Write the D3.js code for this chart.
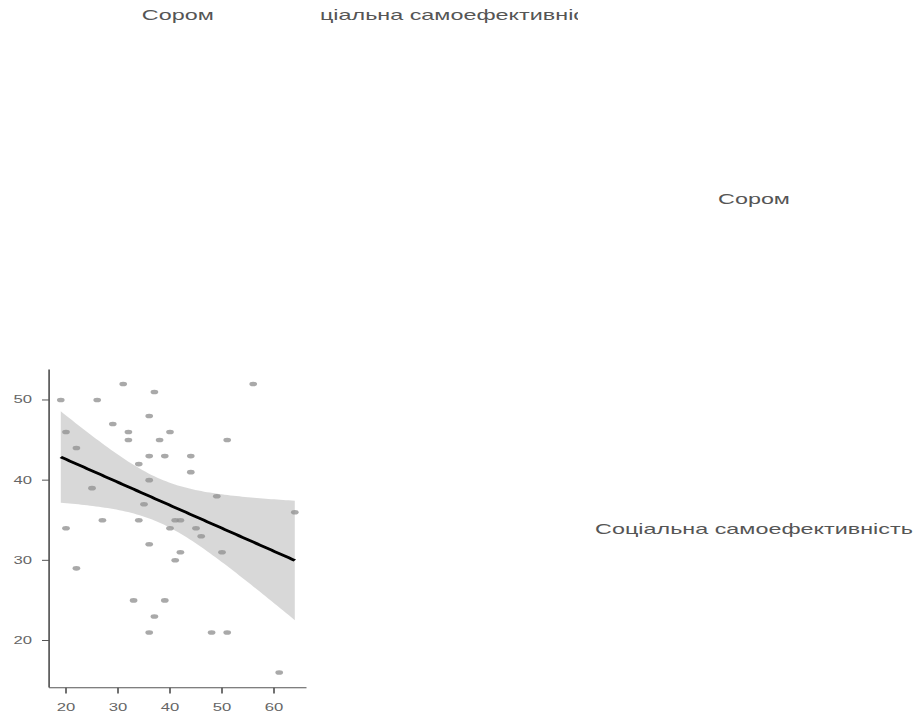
<!DOCTYPE html>
<html>
<head>
<meta charset="utf-8">
<script src="https://cdn.jsdelivr.net/npm/d3@7"></script>
<style>
  html, body { margin: 0; padding: 0; background: #fff; }
  svg { display: block; }
</style>
</head>
<body>
<div id="chart"></div>
<script>
// ---- Data ----
const varNames = ["Сором", "Соціальна самоефективність"];
// x: Сором, y: Соціальна самоефективність
const sorom = [19,26,31,37,56,36,29,20,32,40,32,38,51,22,36,39,44,34,44,36,25,49,35,64,27,34,41,42,20,40,45,46,36,42,50,41,22,33,39,37,36,48,51,61];
const selfEff = [50,50,52,51,52,48,47,46,46,46,45,45,45,44,43,43,43,42,41,40,39,38,37,36,35,35,35,35,34,34,34,33,32,31,31,30,29,25,25,23,21,21,21,16];
const xTicks = [20, 30, 40, 50, 60];
const yTicks = [20, 30, 40, 50];
const tCrit = 2.018; // t(0.975, df = 42)

// ---- Layout (screen px), rendered through a horizontally stretched viewBox ----
const WIDTH = 921, HEIGHT = 715;
const SX = 1.67;             // horizontal stretch of the picture
const sx = v => v / SX;      // screen x -> inner x

const panelL = 49.1, panelR = 306.5, panelT = 369.5, panelB = 687;
const col2L = 320, col2R = 578;

const svg = d3.select("#chart").append("svg")
  .attr("width", WIDTH).attr("height", HEIGHT)
  .attr("viewBox", `0 0 ${WIDTH / SX} ${HEIGHT}`)
  .attr("preserveAspectRatio", "none");

const font = "'Liberation Sans', Arial, sans-serif";

// scales with 5% expansion like ggplot
const xExt = d3.extent(sorom), yExt = d3.extent(selfEff);
const xPad = (xExt[1] - xExt[0]) * 0.05, yPad = (yExt[1] - yExt[0]) * 0.05;
const x = d3.scaleLinear().domain([xExt[0] - xPad, xExt[1] + xPad]).range([sx(panelL), sx(panelR)]);
const y = d3.scaleLinear().domain([yExt[0] - yPad, yExt[1] + yPad]).range([panelB, panelT]);

// ---- regression + CI ----
const n = sorom.length;
const mx = d3.mean(sorom), my = d3.mean(selfEff);
let sxx = 0, sxy = 0;
for (let i = 0; i < n; i++) { sxx += (sorom[i] - mx) ** 2; sxy += (sorom[i] - mx) * (selfEff[i] - my); }
const slope = sxy / sxx, intercept = my - slope * mx;
let sse = 0;
for (let i = 0; i < n; i++) sse += (selfEff[i] - (intercept + slope * sorom[i])) ** 2;
const s = Math.sqrt(sse / (n - 2));
const grid = d3.range(0, 81).map(k => xExt[0] + (xExt[1] - xExt[0]) * k / 80);
const band = grid.map(g => {
  const fit = intercept + slope * g;
  const se = s * Math.sqrt(1 / n + (g - mx) ** 2 / sxx);
  return { x: g, fit, lo: fit - tCrit * se, hi: fit + tCrit * se };
});

const g = svg.append("g");

// CI band
g.append("path").datum(band)
  .attr("d", d3.area().x(d => x(d.x)).y0(d => y(d.lo)).y1(d => y(d.hi)))
  .attr("fill", "#999999").attr("fill-opacity", 0.38);

// points
g.selectAll("circle.pt").data(sorom.map((v, i) => [v, selfEff[i]])).join("circle")
  .attr("class", "pt")
  .attr("cx", d => x(d[0])).attr("cy", d => y(d[1])).attr("r", 2.3)
  .attr("fill", "#949494").attr("fill-opacity", 0.8);

// fit line
g.append("path").datum(band)
  .attr("d", d3.line().x(d => x(d.x)).y(d => y(d.fit)))
  .attr("fill", "none").attr("stroke", "#000").attr("stroke-width", 2.5);

// axes
const axisColor = "#555";
g.append("line").attr("x1", x.range()[0]).attr("x2", x.range()[0])
  .attr("y1", panelT).attr("y2", panelB + 0.5).attr("stroke", axisColor).attr("stroke-width", 1);
g.append("line").attr("x1", x.range()[0]).attr("x2", x.range()[1])
  .attr("y1", panelB + 0.8).attr("y2", panelB + 0.8).attr("stroke", axisColor).attr("stroke-width", 1);

g.selectAll("line.yt").data(yTicks).join("line").attr("class", "yt")
  .attr("x1", sx(42)).attr("x2", x.range()[0]).attr("y1", d => y(d)).attr("y2", d => y(d))
  .attr("stroke", axisColor).attr("stroke-width", 1);
g.selectAll("text.yl").data(yTicks).join("text").attr("class", "yl")
  .attr("x", sx(32)).attr("y", d => y(d)).attr("dy", "0.35em")
  .attr("text-anchor", "end").attr("font-family", font).attr("font-size", 10).attr("fill", "#666")
  .text(d => d);

g.selectAll("line.xt").data(xTicks).join("line").attr("class", "xt")
  .attr("x1", d => x(d)).attr("x2", d => x(d)).attr("y1", panelB + 0.8).attr("y2", panelB + 6.5)
  .attr("stroke", axisColor).attr("stroke-width", 1);
g.selectAll("text.xl").data(xTicks).join("text").attr("class", "xl")
  .attr("x", d => x(d)).attr("y", 711)
  .attr("text-anchor", "middle").attr("font-family", font).attr("font-size", 10).attr("fill", "#666")
  .text(d => d);

// strip labels (top, clipped to columns)
const cols = [[panelL, panelR], [col2L, col2R]];
const defs = svg.append("defs");
cols.forEach((c, i) => {
  defs.append("clipPath").attr("id", "clipCol" + i).append("rect")
    .attr("x", sx(c[0])).attr("y", 0).attr("width", sx(c[1] - c[0])).attr("height", 40);
  svg.append("text").attr("clip-path", `url(#clipCol${i})`)
    .attr("x", sx((c[0] + c[1]) / 2)).attr("y", 20)
    .attr("text-anchor", "middle").attr("font-family", font).attr("font-size", 14).attr("fill", "#555")
    .text(varNames[i]);
});

// strip labels (right side)
const rowBaselines = [204, 534];
varNames.forEach((nm, i) => {
  svg.append("text").attr("x", sx(754)).attr("y", rowBaselines[i])
    .attr("text-anchor", "middle").attr("font-family", font).attr("font-size", 14).attr("fill", "#555")
    .text(nm);
});
</script>
</body>
</html>
